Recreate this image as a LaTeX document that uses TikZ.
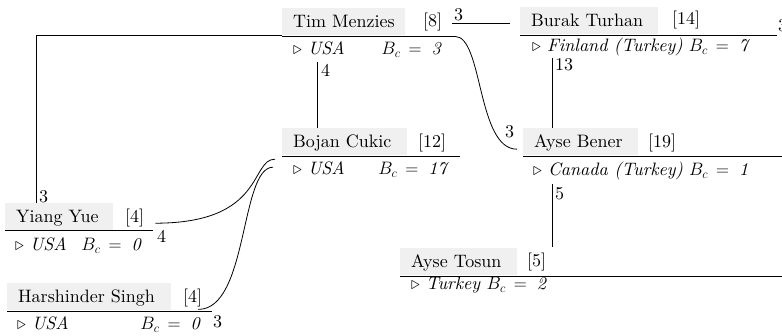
\RequirePackage{fix-cm}
\documentclass[tikz,border=0pt]{standalone}
\usepackage{fontspec}
\setmainfont{lmroman10}[Extension=.otf, UprightFont=*-regular, ItalicFont=*-italic, BoldFont=*-bold, BoldItalicFont=*-bolditalic]
\newcommand{\bcval}[1]{$B_c\,=\;\mathit{#1}$}
\tikzset{
  txt/.style={font=\fontsize{18}{22}\selectfont, inner sep=0pt},
  head/.style={txt, anchor=north west, fill=black!6, inner xsep=11pt, inner ysep=5pt,
    text height=14pt, text depth=3pt, align=left},
  lab/.style={txt, anchor=base west},
  bcl/.style={txt, anchor=base east},
  rule/.style={line width=0.8pt},
  edge/.style={line width=0.8pt},
}
\begin{document}
\begin{tikzpicture}[x=1pt,y=-1pt]
\useasboundingbox (0,0) rectangle (782,336);

% header boxes
\node[head, text width=101pt] (tm) at (282,8) {\mbox{Tim Menzies}};
\node[head, text width=103pt] (bo) at (282,128) {\mbox{Bojan Cukic}};
\node[head, text width=116pt] (bt) at (520,7) {\mbox{Burak Turhan}};
\node[head, text width=93pt] (ab) at (523,128) {\mbox{Ayse Bener}};
\node[head, text width=95pt] (at) at (400,248) {\mbox{Ayse Tosun}};
\node[head, text width=86pt] (yy) at (5,203) {\mbox{Yiang Yue}};
\node[head, text width=142pt] (hs) at (7,283) {\mbox{Harshinder Singh}};

% counts
\node[lab] (tm-n) at (423,27) {[8]};
\node[lab] (bo-n) at (418,148) {[12]};
\node[lab] (bt-n) at (672,25) {[14]};
\node[lab] (ab-n) at (648,148) {[19]};
\node[lab] (at-n) at (527,267) {[5]};
\node[lab] (yy-n) at (125,223) {[4]};
\node[lab] (hs-n) at (183,303) {[4]};

% underlines
\draw[rule] ([yshift=-1pt]tm.south west) -- ++(173,0);
\draw[rule] ([yshift=-1pt]bo.south west) -- ++(178,0);
\draw[rule] ([yshift=-1pt]bt.south west) -- ++(257,0);
\draw[rule] ([yshift=-1.5pt]ab.south west) -- ++(262,0);
\draw[rule] ([yshift=-1.5pt]at.south west) -- ++(385,0);
\draw[rule] ([yshift=-0.5pt]yy.south west) -- ++(148,0);
\draw[rule] ([yshift=-1pt]hs.south west) -- ++(205,0);

% info lines
\node[lab] (tm-i) at (293,55) {$\triangleright$ \textit{USA}};
\node[bcl] (tm-b) at (441,55) {\bcval{3}};
\node[lab] (bo-i) at (293,175) {$\triangleright$ \textit{USA}};
\node[bcl] (bo-b) at (447,175) {\bcval{17}};
\node[lab] (bt-i) at (532,52) {$\triangleright$ \textit{Finland (Turkey)} \bcval{7}};
\node[lab] (ab-i) at (533,176) {$\triangleright$ \textit{Canada (Turkey)} \bcval{1}};
\node[lab] (at-i) at (411,290) {$\triangleright$ \textit{Turkey} \bcval{2}};
\node[lab] (yy-i) at (15,251) {$\triangleright$ \textit{USA}};
\node[bcl] (yy-b) at (141,251) {\bcval{0}};
\node[lab] (hs-i) at (17,330) {$\triangleright$ \textit{USA}};
\node[bcl] (hs-b) at (200,330) {\bcval{0}};

% connectors
\draw[edge] (tm.south west) -| ([xshift=31pt]yy.north west);
\draw[edge] ([xshift=35pt,yshift=-27pt]tm.south west) -- ([xshift=35pt]bo.north west);
\draw[edge] ([xshift=-68pt,yshift=-3pt]bt.west) -- ([xshift=-10pt,yshift=-3pt]bt.west);
\draw[edge] ([xshift=173pt,yshift=-1pt]tm.south west) .. controls +(28,0) and +(-40,0) .. ([xshift=-6pt,yshift=-7.5pt]ab.west);
\draw[edge] ([xshift=32pt,yshift=-24pt]bt.south west) -- ([xshift=29pt]ab.north west);
\draw[edge] ([xshift=29pt,yshift=-29pt]ab.south west) -- ([xshift=152pt,yshift=1pt]at.north west);
\draw[edge] ([xshift=42pt,yshift=-6.5pt]yy.east) .. controls +(110,0) and +(-25,0) .. ([xshift=-7pt,yshift=-17.5pt]bo.west);
\draw[edge] ([xshift=27pt,yshift=1pt]hs.south east) .. controls +(50,0) and +(-33,0) .. ([xshift=-9pt,yshift=-25.5pt]bo.west);

% connector labels
\node[lab] (l1) at (39,203) {3};
\node[lab] (l2) at (321,77) {4};
\node[lab] (l3) at (454,21) {3};
\node[lab] (l4) at (505,138) {3};
\node[lab] (l5) at (555,71) {13};
\node[lab] (l6) at (555,200) {5};
\node[lab] (l7) at (157,243) {4};
\node[lab] (l8) at (213,328) {3};
\node[lab] (l9) at (778,32) {3};
\end{tikzpicture}
\end{document}
